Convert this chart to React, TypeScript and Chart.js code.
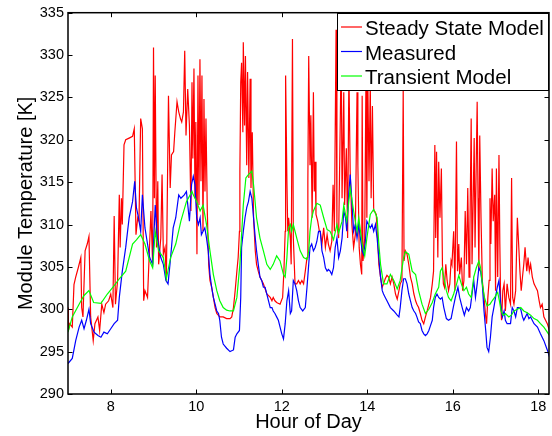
import React, { useEffect, useRef } from "react";
import { Chart, registerables } from "chart.js";

Chart.register(...registerables);

// ---- data ----
const xTicks = [8, 10, 12, 14, 16, 18];
const yTicks = [290, 295, 300, 305, 310, 315, 320, 325, 330, 335];
const seriesNames = ["Steady State Model", "Measured", "Transient Model"];
const seriesColors = ["#ff0000", "#0000ff", "#00ff00"];
const xTitle = "Hour of Day";
const yTitle = "Module Temperature [K]";

// [hour, temperature K]
const steadyState: [number, number][] = [
  [7.0, 300.2], [7.01, 297.5], [7.04, 298.3], [7.1, 297.9], [7.14, 302.9], [7.18, 303.8], [7.24, 304.9],
  [7.3, 306.1], [7.32, 300.2], [7.35, 299.1], [7.4, 306.9], [7.45, 307.7], [7.49, 308.6], [7.53, 299.1],
  [7.59, 296.3], [7.63, 298.3], [7.7, 299.1], [7.74, 297.5], [7.79, 300.6], [7.84, 299.6], [7.88, 300.6],
  [7.95, 301], [8.0, 301.8], [8.05, 300.2], [8.08, 311], [8.11, 300.6], [8.16, 303.4], [8.2, 313.5],
  [8.22, 307.3], [8.25, 313.1], [8.27, 310], [8.31, 319.4], [8.35, 320], [8.43, 320.2], [8.51, 320.4],
  [8.55, 321.3], [8.59, 308.8], [8.63, 310.8], [8.66, 310.4], [8.7, 322.5], [8.74, 321.3], [8.77, 301],
  [8.8, 302.2], [8.86, 301.4], [8.9, 306.5], [8.94, 311.6], [8.98, 305.3], [9.0, 330.9], [9.02, 313.1],
  [9.04, 327.6], [9.07, 307.3], [9.1, 315.1], [9.12, 305.3], [9.17, 308.4], [9.2, 315.9], [9.23, 306.5],
  [9.27, 307.3], [9.3, 303.4], [9.35, 325.2], [9.39, 314.3], [9.42, 318.2], [9.47, 318.6], [9.5, 321],
  [9.55, 324.5], [9.59, 323.3], [9.63, 322.5], [9.66, 322.1], [9.7, 323.3], [9.73, 330.5], [9.76, 320.5],
  [9.8, 326], [9.84, 321.7], [9.875, 311.6], [9.9, 326.8], [9.92, 317.8], [9.946, 328.4], [9.97, 313.1],
  [9.99, 322.1], [10.016, 306.5], [10.04, 327.6], [10.063, 312.3], [10.086, 329.5], [10.11, 315.1],
  [10.133, 327.6], [10.157, 309.2], [10.18, 324.8], [10.204, 313.9], [10.227, 322.5], [10.258, 311.6],
  [10.29, 305.3], [10.32, 303.4], [10.36, 302.6], [10.4, 301.4], [10.44, 300.2], [10.48, 299.5],
  [10.55, 299.1], [10.63, 299.1], [10.71, 298.9], [10.79, 298.9], [10.83, 299.1], [10.87, 300.2],
  [10.91, 302.2], [10.95, 304.5], [10.98, 306.1], [11.01, 309.2], [11.02, 316.3], [11.04, 326.8],
  [11.06, 329.1], [11.09, 320.9], [11.1, 331.5], [11.13, 321.7], [11.15, 329.9], [11.18, 317], [11.2, 328],
  [11.23, 315.5], [11.26, 327.2], [11.28, 314.3], [11.31, 320.9], [11.34, 310.8], [11.38, 306.9],
  [11.41, 305.3], [11.45, 304.5], [11.49, 303.8], [11.57, 303], [11.65, 301.8], [11.73, 301.4], [11.77, 301],
  [11.8, 301.4], [11.84, 301], [11.88, 300.8], [11.96, 300.6], [12.02, 301.4], [12.05, 304.5], [12.08, 309.2],
  [12.09, 327.6], [12.12, 315.1], [12.14, 309.2], [12.16, 310.8], [12.2, 308.4], [12.22, 305.3],
  [12.25, 331.9], [12.27, 308.4], [12.31, 303], [12.35, 303], [12.39, 303.4], [12.43, 303], [12.47, 303.4],
  [12.51, 303], [12.55, 304.5], [12.59, 306.1], [12.61, 315.1], [12.63, 329.9], [12.66, 317], [12.68, 322.9],
  [12.71, 310.8], [12.74, 325.6], [12.76, 313.9], [12.78, 317.4], [12.8, 311.2], [12.84, 310.4],
  [12.88, 309.2], [12.9, 309.2], [12.94, 307.7], [12.98, 309.6], [13.02, 307.3], [13.06, 308.8],
  [13.09, 307.7], [13.13, 306.9], [13.17, 308], [13.2, 314.7], [13.23, 309.2], [13.27, 333], [13.29, 310],
  [13.33, 308.4], [13.37, 322.9], [13.39, 331], [13.41, 313.1], [13.45, 325.6], [13.47, 312.3], [13.51, 319],
  [13.54, 308.4], [13.57, 328], [13.6, 316.3], [13.64, 310], [13.68, 307.3], [13.72, 308.8], [13.76, 325.6],
  [13.78, 317], [13.81, 307.3], [13.84, 305.3], [13.87, 304.1], [13.88, 325.2], [13.9, 305.7], [13.94, 308.4],
  [13.97, 328], [13.99, 310.8], [14.01, 328], [14.04, 315.1], [14.07, 326.8], [14.09, 313.1], [14.12, 324],
  [14.15, 311.6], [14.17, 311.6], [14.21, 311.2], [14.24, 308.4], [14.27, 305.3], [14.31, 303.8],
  [14.35, 302.6], [14.38, 303], [14.42, 303.6], [14.46, 304], [14.5, 303.8], [14.54, 303], [14.58, 303.8],
  [14.62, 303], [14.66, 301.8], [14.7, 301.2], [14.74, 302.2], [14.77, 303], [14.81, 303.4], [14.84, 326],
  [14.86, 305.7], [14.89, 306.9], [14.93, 306.5], [14.97, 305.3], [15.01, 303.8], [15.05, 303], [15.09, 301.8],
  [15.13, 301], [15.16, 300.6], [15.2, 300.2], [15.24, 299.5], [15.28, 298.7], [15.32, 298.3], [15.36, 299.1],
  [15.4, 299.8], [15.44, 300.6], [15.48, 301.4], [15.52, 303], [15.55, 304.5], [15.58, 319.4], [15.6, 308.4],
  [15.62, 318.6], [15.65, 306.1], [15.67, 317.4], [15.7, 310.8], [15.733, 316.6], [15.758, 305.3],
  [15.78, 303], [15.805, 302.6], [15.836, 305.3], [15.867, 303.4], [15.9, 302.2], [15.93, 303],
  [15.96, 305.7], [15.98, 305.3], [16.02, 309.2], [16.05, 302.2], [16.086, 319.8], [16.11, 304.5],
  [16.14, 307.7], [16.16, 304.1], [16.2, 306.1], [16.23, 302.2], [16.26, 303.4], [16.29, 311.6],
  [16.32, 305.3], [16.35, 314.3], [16.38, 303.8], [16.4, 309.2], [16.43, 322.5], [16.45, 305.3],
  [16.48, 313.9], [16.5, 320.2], [16.52, 307.3], [16.55, 317.8], [16.57, 324.5], [16.59, 313.1],
  [16.61, 304.5], [16.63, 320.5], [16.66, 310.8], [16.69, 303.4], [16.73, 301.4], [16.77, 299.1],
  [16.79, 298.3], [16.82, 301.4], [16.85, 303.4], [16.87, 313.1], [16.89, 307.7], [16.92, 316.6],
  [16.945, 310.4], [16.98, 313.5], [17.0, 302.2], [17.02, 316.6], [17.05, 303.8], [17.08, 318.2],
  [17.1, 307.7], [17.12, 300.6], [17.14, 298.7], [17.17, 302.2], [17.2, 303], [17.23, 299.8], [17.27, 303],
  [17.31, 301.4], [17.35, 300.6], [17.375, 315.5], [17.4, 301.4], [17.43, 300.6], [17.47, 302.2],
  [17.51, 310.8], [17.54, 307.7], [17.57, 304.5], [17.6, 302.2], [17.63, 303.8], [17.66, 305.3],
  [17.69, 307.3], [17.73, 304.5], [17.76, 306.1], [17.79, 304.5], [17.82, 305.3], [17.86, 303.8], [17.9, 303],
  [17.94, 302.6], [17.98, 302.2], [18.02, 301], [18.05, 300.2], [18.09, 300.6], [18.13, 299.1],
  [18.17, 298.7], [18.21, 298.3], [18.26, 297.5],
];

const measured: [number, number][] = [
  [7.0, 293.6], [7.1, 294.2], [7.18, 296.3], [7.26, 297.9], [7.32, 298.7], [7.375, 297.7], [7.43, 298.7],
  [7.49, 300], [7.53, 298.3], [7.61, 297.3], [7.7, 296.9], [7.77, 296.7], [7.84, 297.3], [7.92, 297.1],
  [8.0, 297.7], [8.08, 298.3], [8.16, 298.7], [8.2, 301.4], [8.27, 304.5], [8.35, 307.3], [8.43, 310.8],
  [8.51, 312.7], [8.56, 315.1], [8.6, 312], [8.65, 310.8], [8.7, 309.2], [8.74, 313.5], [8.8, 309.6],
  [8.86, 307.7], [8.91, 306.1], [8.98, 305.3], [9.04, 312.3], [9.09, 308.4], [9.17, 306.1], [9.23, 305.3],
  [9.29, 303.4], [9.34, 303], [9.4, 306.1], [9.46, 309.6], [9.52, 310.8], [9.59, 313.5], [9.64, 313.1],
  [9.72, 313.5], [9.77, 313.9], [9.84, 310.4], [9.89, 314.7], [9.93, 315.7], [9.97, 314.7], [10.01, 310.8],
  [10.05, 310], [10.09, 310.8], [10.12, 308.8], [10.16, 309.2], [10.2, 309.6], [10.24, 308.4], [10.28, 306.9],
  [10.32, 304.1], [10.36, 302.6], [10.4, 301.4], [10.44, 300.6], [10.48, 299.8], [10.52, 299.5],
  [10.55, 298.7], [10.59, 296.7], [10.63, 295.9], [10.71, 295.4], [10.79, 295], [10.87, 295.2],
  [10.91, 296.7], [10.95, 297.1], [11.01, 297.5], [11.04, 301.4], [11.06, 307.3], [11.1, 309.2],
  [11.14, 310.8], [11.18, 312], [11.22, 312.7], [11.26, 313.9], [11.3, 313.1], [11.34, 310.8], [11.38, 308.4],
  [11.41, 306.9], [11.45, 305.3], [11.49, 303.8], [11.53, 303.4], [11.57, 302.6], [11.61, 302.6],
  [11.65, 301.8], [11.69, 301], [11.73, 300.2], [11.77, 300.2], [11.8, 299.8], [11.84, 299.5], [11.88, 299.1],
  [11.92, 298.7], [11.96, 297.9], [12.0, 297.1], [12.04, 296.5], [12.08, 298.3], [12.12, 301], [12.16, 302.2],
  [12.2, 299.5], [12.23, 299.8], [12.27, 303.4], [12.31, 303], [12.35, 302.2], [12.39, 301], [12.43, 300.2],
  [12.49, 299.8], [12.55, 300.2], [12.59, 302.6], [12.63, 305.3], [12.66, 307.3], [12.7, 307.7],
  [12.74, 306.9], [12.78, 307.3], [12.82, 308], [12.86, 309.2], [12.9, 309.2], [12.94, 306.9], [12.98, 306.1],
  [13.02, 304.9], [13.06, 304.5], [13.09, 304.7], [13.13, 304.5], [13.17, 304.1], [13.21, 304.9],
  [13.25, 307.3], [13.29, 308.4], [13.33, 306.1], [13.37, 306.9], [13.41, 308.4], [13.45, 311.6],
  [13.49, 310.8], [13.52, 309.2], [13.56, 313.1], [13.6, 315.9], [13.64, 312.7], [13.68, 309.2], [13.72, 310],
  [13.76, 308.4], [13.8, 310], [13.84, 308.4], [13.88, 306.9], [13.91, 306.5], [13.95, 307.7], [13.99, 310.4],
  [14.03, 310], [14.07, 309.6], [14.11, 310], [14.15, 309.2], [14.19, 310], [14.23, 308.4], [14.27, 306.1],
  [14.31, 303.8], [14.35, 302.2], [14.38, 301.8], [14.42, 301.4], [14.46, 301], [14.54, 300.2],
  [14.62, 299.8], [14.7, 299.3], [14.74, 299.1], [14.77, 300.2], [14.81, 302.2], [14.85, 303.6],
  [14.89, 303.6], [14.93, 303], [14.97, 301.8], [15.01, 301], [15.05, 300.2], [15.09, 299.8], [15.13, 299.5],
  [15.16, 299.1], [15.2, 298.5], [15.24, 298.3], [15.28, 297.5], [15.32, 297.1], [15.36, 296.9], [15.4, 297.1],
  [15.44, 297.5], [15.48, 298.1], [15.52, 298.7], [15.55, 300.2], [15.59, 301.4], [15.63, 301.8],
  [15.67, 301.4], [15.71, 301.2], [15.75, 301.4], [15.79, 300.2], [15.85, 298.9], [15.9, 298.7],
  [15.96, 298.9], [16.01, 300.2], [16.06, 301.4], [16.12, 302.6], [16.16, 301.4], [16.22, 300.2],
  [16.27, 299.3], [16.32, 300.2], [16.37, 299.8], [16.41, 300.2], [16.45, 301.8], [16.49, 303.4],
  [16.53, 301.4], [16.57, 303], [16.61, 304.9], [16.65, 304.5], [16.69, 303], [16.73, 299.8], [16.77, 297.5],
  [16.8, 295.5], [16.84, 295], [16.88, 296.7], [16.92, 299.1], [16.96, 300.2], [17.0, 301.4], [17.04, 302.6],
  [17.08, 303.4], [17.12, 300.6], [17.16, 299.1], [17.2, 299.8], [17.23, 298.7], [17.27, 298.3],
  [17.31, 298.3], [17.35, 298.3], [17.39, 300.2], [17.43, 299.8], [17.47, 299.1], [17.51, 300.2],
  [17.55, 300.2], [17.59, 300], [17.63, 299.1], [17.66, 298.7], [17.7, 299.1], [17.74, 299.5], [17.78, 298.9],
  [17.82, 299.1], [17.9, 298.3], [17.98, 297.9], [18.05, 297.1], [18.13, 296.3], [18.21, 295.2],
  [18.26, 294.4],
];

const transient: [number, number][] = [
  [7.0, 297.3], [7.1, 299.1], [7.26, 300.6], [7.37, 301.6], [7.49, 302.2], [7.6, 300.8], [7.77, 300.7],
  [7.92, 301.8], [8.08, 302.8], [8.2, 303.6], [8.35, 304.5], [8.51, 307.7], [8.6, 308.2], [8.7, 308.8],
  [8.8, 307.7], [8.91, 305.7], [8.98, 304.9], [9.04, 309.2], [9.12, 306.9], [9.23, 306.1], [9.3, 303.6],
  [9.4, 306.1], [9.52, 307.7], [9.64, 310.4], [9.77, 312.7], [9.9, 313.9], [9.93, 313.5], [10.01, 312.7],
  [10.09, 311.6], [10.16, 312.3], [10.24, 310], [10.32, 306.9], [10.4, 304.1], [10.48, 302.2], [10.55, 301],
  [10.63, 300.2], [10.71, 299.9], [10.79, 299.8], [10.87, 299.8], [10.95, 301.4], [11.02, 305.3],
  [11.1, 312.3], [11.16, 315.5], [11.22, 315.9], [11.3, 316.3], [11.34, 314.7], [11.41, 310.8],
  [11.49, 308.4], [11.57, 306.9], [11.65, 305.3], [11.73, 304.7], [11.8, 305.3], [11.88, 306.3],
  [11.96, 305.7], [12.04, 304.1], [12.08, 303.8], [12.12, 306.1], [12.16, 309.6], [12.2, 310], [12.23, 309.2],
  [12.27, 310], [12.35, 308.4], [12.43, 306.9], [12.51, 306.1], [12.59, 305.9], [12.63, 306.9],
  [12.66, 309.2], [12.7, 310.8], [12.74, 311.6], [12.82, 312.5], [12.9, 312.3], [12.98, 310.8],
  [13.06, 309.4], [13.13, 309.2], [13.21, 308.2], [13.29, 310], [13.33, 309], [13.41, 310.4], [13.45, 312.3],
  [13.52, 310.4], [13.6, 314.3], [13.68, 311.6], [13.76, 309.2], [13.8, 310.8], [13.88, 307.7],
  [13.94, 306.3], [13.99, 308.4], [14.07, 311.2], [14.15, 311.8], [14.23, 310.8], [14.27, 307.7],
  [14.31, 305.3], [14.38, 303], [14.46, 303], [14.54, 304.1], [14.62, 303.4], [14.7, 302.4], [14.77, 303.4],
  [14.85, 306.1], [14.89, 306.8], [14.97, 306.5], [15.05, 304.5], [15.13, 304.1], [15.2, 302.2],
  [15.28, 300.6], [15.36, 299.5], [15.44, 300], [15.52, 300.8], [15.59, 301.8], [15.67, 302.6],
  [15.71, 304.5], [15.75, 304.9], [15.79, 303.8], [15.85, 302.2], [15.9, 301.4], [15.96, 301],
  [16.02, 301.8], [16.09, 303], [16.14, 304], [16.2, 303], [16.26, 302.2], [16.32, 302.6], [16.37, 301.8],
  [16.43, 301.4], [16.49, 303.8], [16.55, 304.9], [16.61, 305.7], [16.65, 304.9], [16.69, 303],
  [16.74, 301.4], [16.8, 300.4], [16.87, 300.6], [16.92, 301], [16.98, 301.4], [17.02, 301.8], [17.05, 302],
  [17.09, 301], [17.13, 299.8], [17.18, 299.3], [17.23, 299.5], [17.31, 299.1], [17.37, 299.3],
  [17.43, 299.8], [17.51, 300], [17.59, 300.2], [17.66, 299.8], [17.74, 299.6], [17.82, 299.3],
  [17.9, 298.9], [17.98, 298.7], [18.05, 298.3], [18.13, 297.9], [18.21, 297.3], [18.26, 296.9],
];

const FONT = "'Liberation Sans', Arial, Helvetica, sans-serif";

const framePlugin = {
  id: "matlabFrame",
  afterDatasetsDraw(chart: any) {
    const { ctx, chartArea: a, scales } = chart;
    ctx.save();
    // inward ticks on all four sides
    ctx.strokeStyle = "#000";
    ctx.lineWidth = 1;
    const tl = 4.5;
    ctx.beginPath();
    for (const v of xTicks) {
      const x = Math.round(scales.x.getPixelForValue(v)) + 0.5;
      ctx.moveTo(x, a.bottom);
      ctx.lineTo(x, a.bottom - tl);
      ctx.moveTo(x, a.top);
      ctx.lineTo(x, a.top + tl);
    }
    for (const v of yTicks) {
      const y = Math.round(scales.y.getPixelForValue(v)) + 0.5;
      ctx.moveTo(a.left, y);
      ctx.lineTo(a.left + tl, y);
      ctx.moveTo(a.right, y);
      ctx.lineTo(a.right - tl, y);
    }
    ctx.stroke();

    // legend box inside upper right
    const lx = 337.5, ly = 13.5, lw = 211, lh = 77;
    ctx.fillStyle = "#fff";
    ctx.fillRect(lx, ly, lw, lh);
    ctx.strokeStyle = "#000";
    ctx.lineWidth = 1;
    ctx.strokeRect(lx, ly, lw, lh);
    ctx.font = `20.5px ${FONT}`;
    ctx.textBaseline = "alphabetic";
    ctx.textAlign = "left";
    seriesNames.forEach((name, i) => {
      const base = 35 + i * 24.5;
      const ym = base - 8;
      ctx.strokeStyle = seriesColors[i];
      ctx.lineWidth = 1.2;
      ctx.beginPath();
      ctx.moveTo(341, ym);
      ctx.lineTo(362, ym);
      ctx.stroke();
      ctx.fillStyle = "#000";
      ctx.fillText(name, 365, base);
    });

    // axes box
    ctx.strokeStyle = "#000";
    ctx.lineWidth = 1.5;
    ctx.strokeRect(a.left, a.top, a.right - a.left, a.bottom - a.top);
    ctx.restore();
  },
};

export default function App() {
  const canvasRef = useRef<HTMLCanvasElement | null>(null);

  useEffect(() => {
    const canvas = canvasRef.current;
    if (!canvas) return;
    const toPts = (arr: [number, number][]) => arr.map(([x, y]) => ({ x, y }));
    const chart = new Chart(canvas, {
      type: "line",
      data: {
        datasets: [
          {
            label: seriesNames[0],
            data: toPts(steadyState),
            borderColor: seriesColors[0],
            borderWidth: 1.2,
            pointRadius: 0,
            order: 3,
          },
          {
            label: seriesNames[1],
            data: toPts(measured),
            borderColor: seriesColors[1],
            borderWidth: 1.2,
            pointRadius: 0,
            order: 2,
          },
          {
            label: seriesNames[2],
            data: toPts(transient),
            borderColor: seriesColors[2],
            borderWidth: 1.2,
            pointRadius: 0,
            order: 1,
          },
        ],
      },
      options: {
        animation: false,
        responsive: false,
        events: [],
        layout: { padding: { top: 10, right: 3, left: 0, bottom: 0 } },
        elements: { line: { tension: 0 }, point: { radius: 0 } },
        plugins: { legend: { display: false }, tooltip: { enabled: false } },
        scales: {
          x: {
            type: "linear",
            min: 7,
            max: 18.25,
            grid: { display: false, drawTicks: false, tickLength: 0 },
            border: { display: false },
            ticks: {
              color: "#000",
              font: { family: FONT, size: 14.5 },
              padding: 4,
              autoSkip: false,
              maxRotation: 0,
            },
            afterBuildTicks: (s: any) => {
              s.ticks = xTicks.map((v) => ({ value: v }));
            },
            afterFit: (s: any) => {
              s.height = 42;
            },
            title: {
              display: true,
              text: xTitle,
              color: "#000",
              font: { family: FONT, size: 20 },
              padding: { top: 0, bottom: 1.5 },
            },
          },
          y: {
            type: "linear",
            min: 290,
            max: 335,
            grid: { display: false, drawTicks: false, tickLength: 0 },
            border: { display: false },
            ticks: {
              color: "#000",
              font: { family: FONT, size: 14.5 },
              padding: 4,
              autoSkip: false,
            },
            afterBuildTicks: (s: any) => {
              s.ticks = yTicks.map((v) => ({ value: v }));
            },
            afterFit: (s: any) => {
              s.width = 68;
            },
            title: {
              display: true,
              text: yTitle,
              color: "#000",
              font: { family: FONT, size: 20 },
              padding: { top: 14, bottom: 0 },
            },
          },
        },
      },
      plugins: [framePlugin],
    });
    return () => chart.destroy();
  }, []);

  return (
    <div style={{ position: "absolute", left: 0, top: 0, width: 552, height: 436, background: "#fff" }}>
      <canvas ref={canvasRef} width={552} height={436} style={{ display: "block" }} />
    </div>
  );
}
